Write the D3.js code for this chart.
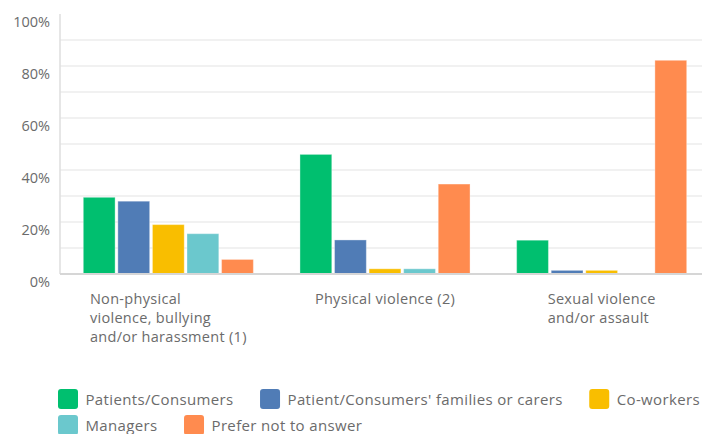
<!DOCTYPE html>
<html>
<head>
<meta charset="utf-8">
<script src="https://cdn.jsdelivr.net/npm/d3@7"></script>
<style>
  html, body { margin: 0; padding: 0; background: #fff; }
  svg { display: block; font-family: "Open Sans", sans-serif; }
</style>
</head>
<body>
<svg id="chart" width="702" height="434"></svg>
<script>
// Workplace violence categories (x-axis groups), label lines as wrapped
const categories = ["Non-physical violence, bullying and/or harassment (1)", "Physical violence (2)", "Sexual violence and/or assault"];
const categoryLines = [
  ["Non-physical", "violence, bullying", "and/or harassment (1)"],
  ["Physical violence (2)"],
  ["Sexual violence", "and/or assault"]
];

// Perpetrator series
const seriesNames = ["Patients/Consumers", "Patient/Consumers' families or carers", "Co-workers", "Managers", "Prefer not to answer"];
const seriesColors = ["#00bf6f", "#507cb6", "#f9be00", "#6bc8cd", "#ff8b4f"];

// Percent of respondents, one array per series (same order as categories)
const patientsConsumers = [29.5, 46.0, 13.0];
const familiesCarers    = [28.0, 13.1, 1.4];
const coWorkers         = [19.0, 2.0, 1.4];
const managers          = [15.5, 2.0, 0];
const preferNotToAnswer = [5.6, 34.6, 82.2];
const seriesValues = [patientsConsumers, familiesCarers, coWorkers, managers, preferNotToAnswer];

const yTicks = [0, 20, 40, 60, 80, 100];
const yGrid = [10, 20, 30, 40, 50, 60, 70, 80, 90];

const svg = d3.select("#chart");
const textColor = "#6b6b6b";

const plot = { left: 60, right: 710, top: 14, bottom: 274 };

const y = d3.scaleLinear().domain([0, 100]).range([plot.bottom, plot.top]);
const x0 = d3.scaleBand().domain(categories).range([plot.left, plot.right]).padding(0);
const inner = 23.3;
const x1 = d3.scaleBand().domain(seriesNames)
  .range([inner, x0.bandwidth() - inner]).paddingInner(0.08).paddingOuter(0);

// horizontal grid
svg.append("g").selectAll("line").data(yGrid).join("line")
  .attr("x1", plot.left).attr("x2", 702)
  .attr("y1", d => y(d)).attr("y2", d => y(d))
  .attr("stroke", "#ececec").attr("stroke-width", 1.5);

// y axis line
svg.append("line")
  .attr("x1", plot.left).attr("x2", plot.left)
  .attr("y1", plot.top).attr("y2", plot.bottom)
  .attr("stroke", "#dedede").attr("stroke-width", 1.5);

// y tick labels
svg.append("g").selectAll("text").data(yTicks).join("text")
  .attr("x", 50).attr("y", d => y(d) + 7)
  .attr("text-anchor", "end").attr("dominant-baseline", "central")
  .attr("fill", textColor).attr("font-size", 14.5)
  .text(d => d + "%");

// bars
const groups = svg.append("g").selectAll("g").data(categories).join("g")
  .attr("transform", c => `translate(${x0(c)},0)`);

groups.selectAll("rect")
  .data((c, ci) => seriesNames.map((s, si) => ({ s, si, v: seriesValues[si][ci] })))
  .join("rect")
  .filter(d => d.v > 0)
  .attr("x", d => x1(d.s))
  .attr("width", x1.bandwidth())
  .attr("y", d => y(d.v))
  .attr("height", d => y(0) - y(d.v))
  .attr("fill", d => seriesColors[d.si])
  .attr("stroke", "#ffffff").attr("stroke-opacity", 0.35).attr("stroke-width", 1);

// baseline
svg.append("line")
  .attr("x1", plot.left).attr("x2", 702)
  .attr("y1", y(0)).attr("y2", y(0))
  .attr("stroke", "#d6d6d6").attr("stroke-width", 2);

// category labels: block centred under group, lines left-aligned
categories.forEach((c, ci) => {
  const g = svg.append("g");
  const texts = g.selectAll("text").data(categoryLines[ci]).join("text")
    .attr("y", (d, i) => 298 + i * 19)
    .attr("dominant-baseline", "central")
    .attr("fill", textColor).attr("font-size", 14.5)
    .attr("letter-spacing", "0.3px")
    .text(d => d);
  let maxW = 0;
  texts.each(function () { maxW = Math.max(maxW, this.getComputedTextLength()); });
  const cx = x0(c) + x0.bandwidth() / 2;
  texts.attr("x", cx - maxW / 2);
});

// legend (flowing rows)
const legend = svg.append("g");
let lx = 58, ly = 389;
const sq = 20, rowH = 26, gapText = 7.5, gapItem = 26.5, maxX = 702;
seriesNames.forEach((name, i) => {
  const item = legend.append("g");
  const t = item.append("text")
    .attr("x", sq + gapText).attr("y", sq / 2 - 0.5)
    .attr("dominant-baseline", "central")
    .attr("fill", textColor).attr("font-size", 15)
    .attr("letter-spacing", "0.35px")
    .text(name);
  const w = sq + gapText + t.node().getComputedTextLength();
  if (lx + w > maxX) { lx = 58; ly += rowH; }
  item.append("rect")
    .attr("width", sq).attr("height", sq).attr("rx", 3)
    .attr("fill", seriesColors[i]);
  item.attr("transform", `translate(${lx},${ly})`);
  lx += w + gapItem;
});
</script>
</body>
</html>
